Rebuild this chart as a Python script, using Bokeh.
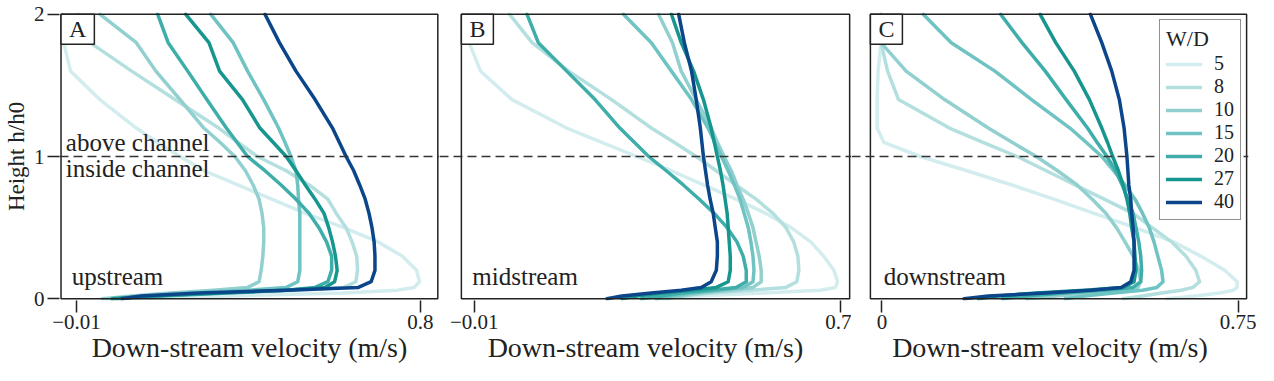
from bokeh.plotting import figure
from bokeh.models import Range1d, FixedTicker, BoxAnnotation, Span, Label, Legend, LegendItem
from bokeh.layouts import row
from bokeh.embed import file_html
from bokeh.resources import INLINE

FONT = "Liberation Serif"

# Height levels (h/h0), shared by all curves
heights = [0.0, 0.02, 0.04, 0.06, 0.08, 0.12, 0.2, 0.3, 0.4, 0.5, 0.6, 0.7, 0.8, 0.9,
           1.0, 1.1, 1.2, 1.4, 1.6, 1.8, 2.0]

wd_labels = ["5", "8", "10", "15", "20", "27", "40"]
wd_colors = ["#d3edef", "#b4dfdf", "#92d0d0", "#6fc3c2", "#3faeaa", "#17968f", "#0c468a"]

# Panel A - upstream velocity (m/s) at each height
up_5 = [0.10, 0.35, 0.62, 0.745, 0.785, 0.798, 0.791, 0.757, 0.700, 0.620, 0.529, 0.450, 0.370, 0.290, 0.234, 0.180, 0.131, 0.045, -0.024, -0.040, -0.042]
up_8 = [0.063, 0.165, 0.325, 0.507, 0.620, 0.648, 0.652, 0.650, 0.639, 0.625, 0.602, 0.582, 0.538, 0.484, 0.416, 0.370, 0.325, 0.222, 0.120, 0.022, -0.006]
up_10 = [0.051, 0.120, 0.211, 0.313, 0.393, 0.420, 0.425, 0.429, 0.431, 0.431, 0.427, 0.420, 0.406, 0.388, 0.363, 0.328, 0.290, 0.234, 0.177, 0.131, 0.045]
up_15 = [0.074, 0.142, 0.256, 0.393, 0.484, 0.511, 0.516, 0.516, 0.516, 0.516, 0.516, 0.513, 0.511, 0.507, 0.495, 0.481, 0.466, 0.431, 0.393, 0.359, 0.306]
up_20 = [0.086, 0.188, 0.347, 0.484, 0.552, 0.582, 0.591, 0.591, 0.579, 0.561, 0.538, 0.507, 0.472, 0.434, 0.393, 0.368, 0.343, 0.297, 0.252, 0.206, 0.181]
up_27 = [0.074, 0.165, 0.325, 0.484, 0.575, 0.598, 0.604, 0.600, 0.593, 0.584, 0.573, 0.552, 0.529, 0.507, 0.484, 0.453, 0.422, 0.381, 0.327, 0.302, 0.247]
up_40 = [0.097, 0.142, 0.279, 0.484, 0.654, 0.684, 0.693, 0.693, 0.691, 0.686, 0.679, 0.670, 0.657, 0.643, 0.625, 0.609, 0.593, 0.552, 0.507, 0.468, 0.434]

# Panel B - midstream
mid_5 = [0.34, 0.42, 0.55, 0.66, 0.690, 0.694, 0.687, 0.667, 0.642, 0.604, 0.555, 0.497, 0.434, 0.372, 0.305, 0.237, 0.169, 0.063, 0.002, -0.020, -0.020]
mid_8 = [0.353, 0.391, 0.449, 0.526, 0.594, 0.615, 0.619, 0.617, 0.609, 0.594, 0.569, 0.536, 0.497, 0.459, 0.420, 0.377, 0.333, 0.256, 0.173, 0.102, 0.058]
mid_10 = [0.362, 0.391, 0.430, 0.488, 0.530, 0.546, 0.546, 0.542, 0.536, 0.530, 0.521, 0.511, 0.499, 0.488, 0.474, 0.461, 0.449, 0.420, 0.391, 0.374, 0.347]
mid_15 = [0.343, 0.372, 0.411, 0.459, 0.511, 0.530, 0.532, 0.530, 0.526, 0.521, 0.513, 0.505, 0.494, 0.482, 0.469, 0.456, 0.443, 0.411, 0.372, 0.333, 0.279]
mid_20 = [0.314, 0.353, 0.391, 0.449, 0.497, 0.517, 0.517, 0.511, 0.499, 0.480, 0.455, 0.426, 0.395, 0.362, 0.328, 0.300, 0.272, 0.224, 0.169, 0.114, 0.092]
mid_27 = [0.276, 0.305, 0.353, 0.411, 0.459, 0.482, 0.486, 0.486, 0.484, 0.482, 0.480, 0.476, 0.472, 0.467, 0.461, 0.455, 0.449, 0.434, 0.415, 0.391, 0.372]
mid_40 = [0.247, 0.276, 0.333, 0.391, 0.430, 0.449, 0.459, 0.461, 0.461, 0.457, 0.453, 0.447, 0.442, 0.438, 0.434, 0.431, 0.428, 0.420, 0.411, 0.397, 0.386]

# Panel C - downstream
down_5 = [0.60, 0.66, 0.71, 0.74, 0.748, 0.748, 0.722, 0.671, 0.614, 0.533, 0.447, 0.362, 0.274, 0.179, 0.081, 0.004, -0.010, -0.010, -0.008, -0.002, -0.002]
down_8 = [0.508, 0.549, 0.589, 0.630, 0.655, 0.669, 0.661, 0.640, 0.610, 0.569, 0.529, 0.468, 0.407, 0.346, 0.285, 0.213, 0.142, 0.035, 0.012, -0.002, -0.002]
down_10 = [0.305, 0.366, 0.447, 0.508, 0.539, 0.545, 0.541, 0.529, 0.512, 0.494, 0.472, 0.443, 0.411, 0.370, 0.325, 0.274, 0.224, 0.132, 0.051, -0.002, -0.002]
down_15 = [0.386, 0.427, 0.488, 0.549, 0.579, 0.592, 0.589, 0.581, 0.573, 0.563, 0.549, 0.533, 0.512, 0.488, 0.463, 0.430, 0.396, 0.315, 0.238, 0.146, 0.087]
down_20 = [0.254, 0.305, 0.386, 0.468, 0.529, 0.545, 0.547, 0.545, 0.541, 0.535, 0.529, 0.518, 0.506, 0.492, 0.474, 0.453, 0.433, 0.388, 0.344, 0.295, 0.250]
down_27 = [0.203, 0.244, 0.325, 0.427, 0.508, 0.531, 0.535, 0.533, 0.531, 0.526, 0.522, 0.516, 0.508, 0.498, 0.486, 0.475, 0.463, 0.437, 0.405, 0.366, 0.333]
down_40 = [0.173, 0.224, 0.345, 0.440, 0.504, 0.524, 0.531, 0.531, 0.531, 0.529, 0.526, 0.524, 0.520, 0.518, 0.516, 0.513, 0.510, 0.500, 0.484, 0.463, 0.439]

x_ticks_up = [-0.01, 0.8]
x_tick_labels_up = ["\u22120.01", "0.8"]
x_ticks_mid = [-0.01, 0.7]
x_tick_labels_mid = ["\u22120.01", "0.7"]
x_ticks_down = [0, 0.75]
x_tick_labels_down = ["0", "0.75"]
y_ticks = [0, 1, 2]

panels = [
    dict(letter="A", name="upstream", series=[up_5, up_8, up_10, up_15, up_20, up_27, up_40],
         xr=(-0.050, 0.845), box=(-0.0464, 0.841), ticks=x_ticks_up, labels=x_tick_labels_up,
         width=439, lb=49, rb=0, show_y=True, name_x=-0.0214),
    dict(letter="B", name="midstream", series=[mid_5, mid_8, mid_10, mid_15, mid_20, mid_27, mid_40],
         xr=(-0.0775, 0.721), box=(-0.0351, 0.7174), ticks=x_ticks_mid, labels=x_tick_labels_mid,
         width=412, lb=0, rb=0, show_y=False, name_x=-0.0139),
    dict(letter="C", name="downstream", series=[down_5, down_8, down_10, down_15, down_20, down_27, down_40],
         xr=(-0.064, 0.772), box=(-0.0242, 0.768), ticks=x_ticks_down, labels=x_tick_labels_down,
         width=407, lb=0, rb=10, show_y=False, name_x=0.004),
]

figs = []
for i, pan in enumerate(panels):
    p = figure(width=pan["width"], height=365, x_range=Range1d(*pan["xr"]), y_range=Range1d(-0.012, 2.012),
               output_backend="svg", toolbar_location=None,
               min_border_left=pan["lb"], min_border_right=pan["rb"], min_border_top=12, min_border_bottom=0,
               y_axis_location="left" if pan["show_y"] else None)
    p.outline_line_color = None
    p.xgrid.visible = False
    p.ygrid.visible = False
    p.background_fill_color = "white"

    renderers = []
    for vals, col in zip(pan["series"], wd_colors):
        r = p.line(vals, heights, line_color=col, line_width=3.5, line_join="round", line_cap="round")
        renderers.append(r)

    # x axis
    ax = p.xaxis[0]
    ax.ticker = FixedTicker(ticks=pan["ticks"])
    ax.major_label_overrides = dict(zip(pan["ticks"], pan["labels"]))
    ax.axis_line_color = None
    ax.major_tick_in = 0
    ax.major_tick_out = 12
    ax.major_tick_line_width = 1.5
    ax.major_tick_line_color = "#222222"
    ax.minor_tick_out = 0
    ax.minor_tick_in = 0
    ax.major_label_standoff = 2
    ax.major_label_text_font = FONT
    ax.major_label_text_font_size = "21px"
    ax.major_label_text_color = "#222222"
    ax.axis_label = "Down-stream velocity (m/s)"
    ax.axis_label_text_font = FONT
    ax.axis_label_text_font_size = "28px"
    ax.axis_label_text_font_style = "normal"
    ax.axis_label_text_color = "#222222"
    ax.axis_label_standoff = 0

    if pan["show_y"]:
        ay = p.yaxis[0]
        ay.ticker = FixedTicker(ticks=y_ticks)
        ay.axis_line_color = None
        ay.major_tick_in = 0
        ay.major_tick_out = 12
        ay.major_tick_line_width = 1.5
        ay.major_tick_line_color = "#222222"
        ay.minor_tick_out = 0
        ay.minor_tick_in = 0
        ay.major_label_standoff = 3
        ay.major_label_text_font = FONT
        ay.major_label_text_font_size = "21px"
        ay.major_label_text_color = "#222222"
        ay.axis_label = "Height h/h0"
        ay.axis_label_text_font = FONT
        ay.axis_label_text_font_size = "23px"
        ay.axis_label_text_font_style = "normal"
        ay.axis_label_text_color = "#222222"
        ay.axis_label_standoff = 2

    # panel frame
    p.add_layout(BoxAnnotation(left=pan["box"][0], right=pan["box"][1], bottom=0, top=2,
                               fill_alpha=0, line_color="#222222", line_alpha=1.0, line_width=1.5))

    # channel top line
    p.add_layout(Span(location=1, dimension="width", line_color="#333333", line_width=1.5,
                      line_dash="9 5", level="overlay"))

    # panel letter
    p.add_layout(Label(x=pan["box"][0], y=2, text=pan["letter"], text_align="left", text_baseline="top",
                       text_font=FONT, text_font_size="24px", text_color="#222222",
                       border_line_color="#222222", border_line_width=1.5,
                       background_fill_color="white",
                       padding=dict(left=8, right=8, top=2, bottom=2)))

    # position name
    p.add_layout(Label(x=pan["name_x"], y=0.16, text=pan["name"], text_align="left",
                       text_baseline="alphabetic", text_font=FONT, text_font_size="25px",
                       text_color="#222222"))

    if i == 0:
        p.add_layout(Label(x=-0.035, y=1.10, text="above channel", text_align="left",
                           text_baseline="alphabetic", text_font=FONT, text_font_size="25px",
                           text_color="#222222"))
        p.add_layout(Label(x=-0.035, y=0.915, text="inside channel", text_align="left",
                           text_baseline="alphabetic", text_font=FONT, text_font_size="25px",
                           text_color="#222222"))

    if i == 2:
        items = [LegendItem(label=lab, renderers=[r]) for lab, r in zip(wd_labels, renderers)]
        legend = Legend(items=items, location="top_right", title="W/D",
                        title_text_font=FONT, title_text_font_size="22px", title_text_font_style="normal",
                        title_text_color="#222222", title_standoff=0,
                        label_text_font=FONT, label_text_font_size="20px", label_text_color="#222222",
                        glyph_width=36, glyph_height=20, label_height=20, label_standoff=12,
                        spacing=0, padding=6, margin=7,
                        border_line_color="#222222", border_line_width=1.5,
                        background_fill_color="white", background_fill_alpha=1.0)
        p.add_layout(legend)

    figs.append(p)

layout = row(*figs, spacing=0)
open("out.html", "w").write(file_html(layout, INLINE))
